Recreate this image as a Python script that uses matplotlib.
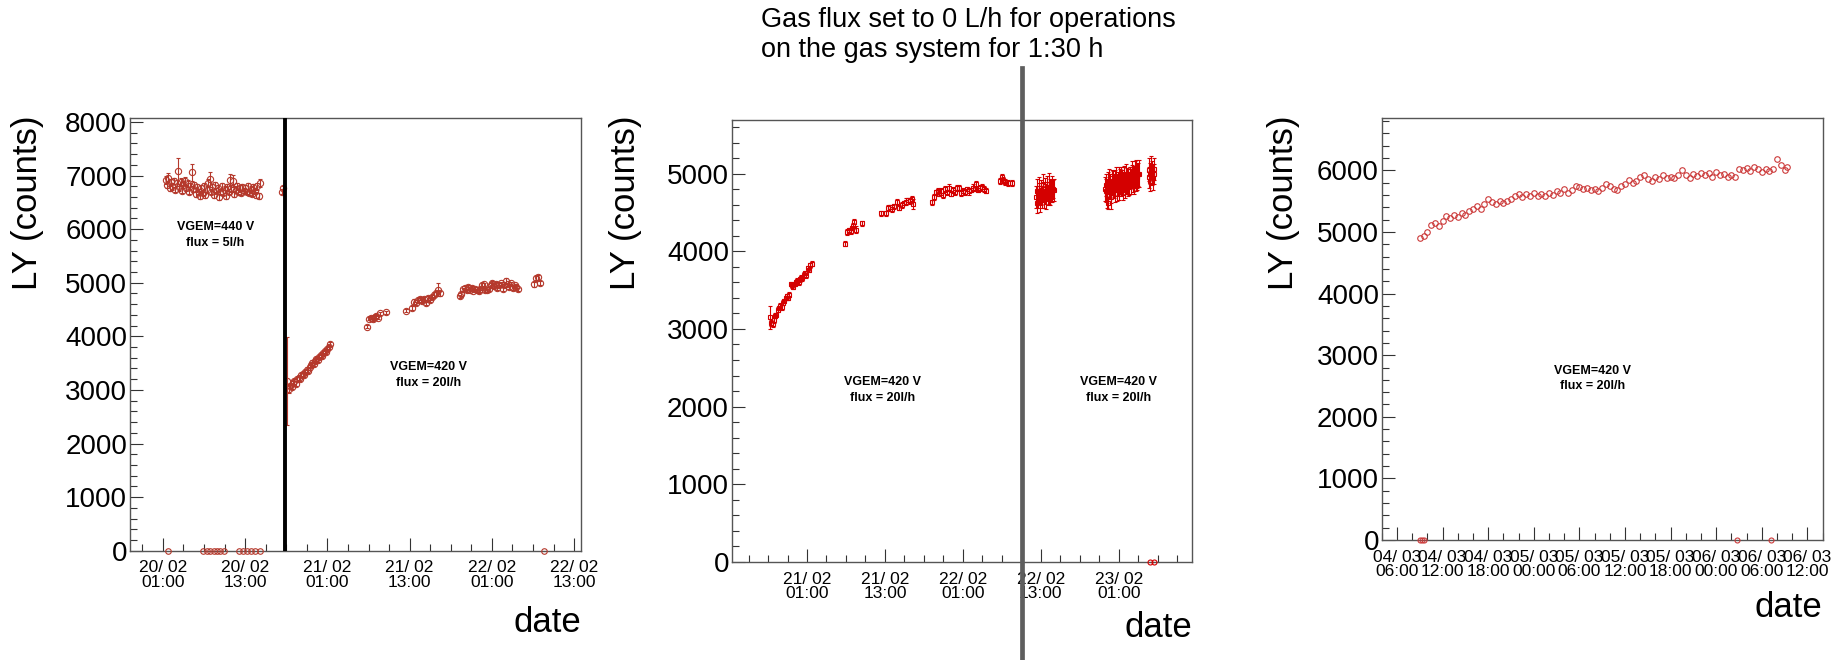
import numpy as np
import matplotlib
matplotlib.use("Agg")
import matplotlib.pyplot as plt
from matplotlib.ticker import MultipleLocator
from matplotlib.lines import Line2D
from matplotlib.transforms import blended_transform_factory

plt.rcParams['font.family'] = ['Liberation Sans', 'DejaVu Sans']

# ---------------- Panel 1 (hours since 20/02 01:00) ----------------
p1_tA = [0.4, 0.6, 0.8, 1.0, 1.2, 1.4, 1.6, 1.8, 2.0, 2.2,
         2.4, 2.6, 2.8, 3.0, 3.2, 3.4, 3.6, 3.8, 4.0, 4.2,
         4.4, 4.6, 4.8, 5.0, 5.2, 5.4, 5.6, 5.8, 6.0, 6.2,
         6.4, 6.6, 6.8, 7.0, 7.2, 7.4, 7.6, 7.8, 8.0, 8.2,
         8.4, 8.6, 8.8, 9.0, 9.2, 9.4, 9.6, 9.8, 10.0, 10.2,
         10.4, 10.6, 10.8, 11.0, 11.2, 11.4, 11.6, 11.8, 12.0, 12.2,
         12.4, 12.6, 12.8, 13.0, 13.2, 13.4, 13.6, 13.8, 14.0, 14.2]
p1_vA = [6920, 6830, 6960, 6760, 6880, 6800, 6900, 6740, 6860, 7090,
         6780, 6880, 6720, 6830, 6900, 6760, 6850, 6700, 6800, 7060,
         6750, 6820, 6650, 6780, 6700, 6620, 6760, 6680, 6800, 6640,
         6740, 6870, 6930, 6700, 6780, 6640, 6820, 6720, 6760, 6600,
         6700, 6800, 6680, 6740, 6620, 6780, 6700, 6920, 6760, 6900,
         6650, 6740, 6800, 6700, 6760, 6680, 6780, 6720, 6760, 6700,
         6800, 6680, 6740, 6660, 6780, 6720, 6640, 6800, 6620, 6860]
p1_eA = [70, 60, 80, 50, 60, 70, 60, 50, 60, 240,
         60, 70, 50, 60, 70, 50, 60, 50, 60, 160,
         50, 60, 50, 60, 50, 50, 60, 50, 60, 50,
         60, 70, 140, 50, 60, 50, 60, 50, 60, 50,
         50, 60, 50, 60, 50, 60, 50, 110, 60, 120,
         50, 60, 60, 50, 60, 50, 60, 50, 60, 50,
         60, 50, 60, 50, 60, 50, 50, 60, 50, 80]
p1_tB = [17.4, 17.55]
p1_vB = [6700, 6760]
p1_eB = [50, 50]
p1_tC = [18.15, 18.4, 18.6, 18.8, 19.0, 19.2, 19.4, 19.6, 19.8, 20.0,
         20.2, 20.4, 20.6, 20.8, 21.0, 21.2, 21.4, 21.6, 21.8, 22.0,
         22.2, 22.4, 22.6, 22.8, 23.0, 23.2, 23.4, 23.6, 23.8, 24.0,
         24.2, 24.4]
p1_vC = [3170, 3020, 3080, 3060, 3130, 3160, 3120, 3200, 3230, 3210,
         3280, 3300, 3280, 3340, 3380, 3360, 3420, 3460, 3510, 3490,
         3540, 3580, 3560, 3620, 3650, 3640, 3690, 3720, 3710, 3760,
         3800, 3860]
p1_eC = [820, 80, 40, 40, 40, 40, 40, 40, 40, 40,
         40, 40, 40, 40, 40, 40, 40, 40, 40, 40,
         40, 40, 40, 40, 40, 40, 40, 40, 40, 40,
         40, 40]
p1_tD = [29.8, 30.1, 30.4, 30.6, 30.9, 31.1, 31.4, 31.7, 32.5]
p1_vD = [4180, 4330, 4350, 4320, 4360, 4380, 4350, 4430, 4450]
p1_eD = [30, 30, 30, 30, 30, 30, 30, 30, 30]
p1_tE = [35.5, 36.3, 36.6, 36.9, 37.2, 37.5, 37.8, 38.1, 38.4, 38.7,
         39.0, 39.3, 39.6, 39.9, 40.1, 40.4]
p1_vE = [4480, 4530, 4650, 4620, 4680, 4700, 4660, 4700, 4620, 4720,
         4680, 4740, 4780, 4800, 4870, 4800]
p1_eE = [30, 30, 40, 30, 40, 30, 30, 40, 30, 40,
         30, 40, 40, 40, 120, 40]
p1_tF = [43.3, 43.55, 43.8, 44.05, 44.3, 44.55, 44.8, 45.05, 45.3, 45.55,
         45.8, 46.05, 46.3, 46.55, 46.8, 47.05, 47.3, 47.55, 47.8, 48.05,
         48.3, 48.55, 48.8, 49.05, 49.3, 49.55, 49.8, 50.05, 50.3, 50.55,
         50.8, 51.05, 51.3, 51.55, 51.8]
p1_vF = [4750, 4790, 4880, 4900, 4860, 4920, 4870, 4900, 4850, 4880,
         4860, 4840, 4890, 4950, 4970, 4870, 4860, 4890, 4960, 4990,
         4940, 4980, 4900, 4960, 4990, 4880, 4950, 5040, 4970, 4930,
         4990, 4900, 4950, 4920, 4880]
p1_eF = [30, 40, 30, 40, 30, 40, 30, 40, 30, 40,
         30, 40, 30, 40, 30, 40, 30, 40, 30, 40,
         30, 40, 30, 40, 30, 40, 30, 50, 30, 40,
         30, 40, 30, 40, 30]
p1_tG = [54.1, 54.4, 54.7, 55.0]
p1_vG = [4970, 5090, 5100, 5000]
p1_eG = [40, 40, 50, 40]
p1_zero_t = [0.7, 5.9, 6.4, 6.9, 7.4, 7.9, 8.4, 8.9, 11.1, 11.7, 12.3, 12.9, 13.5, 14.1, 55.6]
p1_zero_v = [0, 0, 0, 0, 0, 0, 0, 0, 0, 0, 0, 0, 0, 0, 0]
p1_change_t = 17.83
p1_xticks = [0, 12, 24, 36, 48, 60]
p1_xlabels = ['20/ 02\n01:00', '20/ 02\n13:00', '21/ 02\n01:00',
              '21/ 02\n13:00', '22/ 02\n01:00', '22/ 02\n13:00']

# ---------------- Panel 2 (hours since 21/02 01:00) ----------------
p2_tA = [-5.7, -5.5, -5.3, -5.1, -4.9, -4.7, -4.5, -4.3, -4.1, -3.9,
         -3.7, -3.5, -3.3, -3.1, -2.9, -2.7, -2.5, -2.3, -2.1, -1.9,
         -1.7, -1.5, -1.3, -1.1, -0.9, -0.7, -0.5, -0.3, -0.1, 0.1,
         0.3, 0.5, 0.7]
p2_vA = [3150, 3080, 3060, 3110, 3170, 3180, 3250, 3270, 3300, 3280,
         3340, 3360, 3400, 3420, 3400, 3440, 3580, 3560, 3540, 3580,
         3600, 3620, 3600, 3640, 3660, 3650, 3700, 3720, 3690, 3780,
         3760, 3820, 3840]
p2_eA = [150, 40, 30, 30, 30, 30, 30, 30, 30, 30,
         30, 30, 30, 30, 30, 30, 30, 30, 30, 30,
         30, 30, 30, 30, 30, 30, 30, 30, 30, 30,
         30, 30, 30]
p2_tB = [5.8, 6.1, 6.4, 6.7, 6.9, 7.1, 7.3, 7.5, 8.4]
p2_vB = [4100, 4250, 4270, 4260, 4300, 4330, 4380, 4280, 4360]
p2_eB = [30, 40, 30, 40, 30, 40, 30, 40, 30]
p2_tC = [11.4, 12.2, 12.5, 12.8, 13.1, 13.4, 13.8, 14.1, 14.6, 14.9,
         15.2, 15.5, 15.8, 16.1, 16.4]
p2_vC = [4490, 4490, 4560, 4570, 4550, 4580, 4630, 4560, 4600, 4620,
         4640, 4660, 4650, 4670, 4610]
p2_eC = [30, 30, 40, 30, 40, 30, 40, 30, 40, 30,
         40, 30, 40, 40, 60]
p2_tD = [19.2, 19.5, 19.8, 20.1, 20.4, 20.7, 21.0, 21.3, 21.6, 21.9,
         22.2, 22.5, 22.8, 23.1, 23.4, 23.7, 24.0, 24.3, 24.6, 24.9,
         25.2, 25.5, 25.8, 26.1, 26.4, 26.7, 27.0, 27.3, 27.6]
p2_vD = [4630, 4700, 4760, 4780, 4740, 4770, 4720, 4800, 4760, 4820,
         4740, 4790, 4760, 4810, 4820, 4750, 4780, 4760, 4800, 4770,
         4790, 4820, 4800, 4860, 4790, 4810, 4830, 4800, 4780]
p2_eD = [30, 40, 30, 40, 30, 40, 30, 40, 30, 40,
         30, 40, 30, 40, 30, 40, 30, 40, 30, 40,
         30, 40, 30, 40, 30, 40, 30, 40, 30]
p2_tE = [29.8, 30.0, 30.2, 30.5, 31.0, 31.6]
p2_vE = [4900, 4950, 4920, 4890, 4880, 4880]
p2_eE = [40, 40, 40, 40, 40, 40]
p2_tF = [35.3, 35.4, 35.5, 35.6, 35.7, 35.8, 35.9, 36.0, 36.1, 36.2,
         36.3, 36.4, 36.5, 36.6, 36.7, 36.8, 36.9, 37.0, 37.1, 37.2,
         37.3, 37.4, 37.5, 37.6, 37.7, 37.8, 37.9, 38.0]
p2_vF = [4700, 4620, 4780, 4680, 4750, 4820, 4650, 4720, 4790, 4700,
         4850, 4760, 4680, 4800, 4740, 4690, 4830, 4770, 4720, 4860,
         4750, 4800, 4710, 4780, 4820, 4760, 4800, 4790]
p2_eF = [140, 130, 150, 120, 130, 140, 150, 120, 130, 140,
         150, 130, 120, 140, 130, 150, 140, 120, 130, 150,
         140, 130, 120, 140, 150, 130, 120, 140]
p2_tG = [45.9, 46.1, 46.3, 46.5, 46.7, 46.9, 47.1, 47.3, 47.5, 47.7,
         47.9, 48.1, 48.3, 48.5, 48.7, 48.9, 49.1, 49.3, 49.5, 49.7,
         49.9, 50.1, 50.3, 50.5, 50.7, 50.9, 51.1]
p2_vG = [4800, 4850, 4620, 4900, 4820, 4760, 4880, 4840, 4900, 4800,
         4870, 4920, 4850, 4890, 4820, 4950, 4880, 4910, 4860, 4940,
         4900, 4960, 4880, 4990, 4930, 4970, 5000]
p2_eG = [150, 140, 80, 160, 150, 140, 150, 160, 140, 150,
         150, 160, 140, 150, 160, 150, 140, 160, 150, 140,
         160, 150, 140, 170, 150, 160, 170]
p2_tH = [46.0, 46.2, 46.4, 46.6, 46.8, 47.0, 47.2, 47.4, 47.6, 47.8,
         48.0, 48.2, 48.4, 48.6, 48.8, 49.0, 49.2, 49.4, 49.6, 49.8,
         50.0, 50.2, 50.4, 50.6, 50.8, 51.0]
p2_vH = [4780, 4720, 4880, 4850, 4700, 4900, 4860, 4790, 4930, 4850,
         4810, 4900, 4950, 4870, 4920, 4840, 4980, 4900, 4870, 4950,
         5010, 4920, 4960, 5020, 4950, 4990]
p2_eH = [150, 160, 140, 150, 160, 150, 140, 160, 150, 140,
         150, 160, 140, 150, 160, 150, 140, 160, 150, 140,
         150, 160, 140, 150, 160, 150]
p2_tI = [52.6, 52.7, 52.8, 52.9, 53.0, 53.1, 53.2, 53.3, 53.4, 53.5]
p2_vI = [4950, 5050, 4900, 5000, 5080, 4980, 5020, 4940, 5060, 5000]
p2_eI = [140, 150, 130, 140, 150, 130, 140, 150, 140, 130]
p2_zero_t = [52.9, 53.4]
p2_zero_v = [0, 0]
p2_gas_stop_t = 33.1
p2_xticks = [0, 12, 24, 36, 48]
p2_xlabels = ['21/ 02\n01:00', '21/ 02\n13:00', '22/ 02\n01:00',
              '22/ 02\n13:00', '23/ 02\n01:00']

# ---------------- Panel 3 (hours since 04/03 06:00) ----------------
p3_t = [3.0, 3.5, 4.0, 4.5, 5.0, 5.5, 6.0, 6.5, 7.0, 7.5,
        8.0, 8.5, 9.0, 9.5, 10.0, 10.5, 11.0, 11.5, 12.0, 12.5,
        13.0, 13.5, 14.0, 14.5, 15.0, 15.5, 16.0, 16.5, 17.0, 17.5,
        18.0, 18.5, 19.0, 19.5, 20.0, 20.5, 21.0, 21.5, 22.0, 22.5,
        23.0, 23.5, 24.0, 24.5, 25.0, 25.5, 26.0, 26.5, 27.0, 27.5,
        28.0, 28.5, 29.0, 29.5, 30.0, 30.5, 31.0, 31.5, 32.0, 32.5,
        33.0, 33.5, 34.0, 34.5, 35.0, 35.5, 36.0, 36.5, 37.0, 37.5,
        38.0, 38.5, 39.0, 39.5, 40.0, 40.5, 41.0, 41.5, 42.0, 42.5,
        43.0, 43.5, 44.0, 44.5, 45.0, 45.5, 46.0, 46.5, 47.0, 47.5,
        48.0, 48.5, 49.0, 49.5, 50.0, 50.5, 51.0, 51.3]
p3_v = [4900, 4930, 5000, 5120, 5150, 5100, 5180, 5260, 5230, 5270,
        5250, 5300, 5270, 5340, 5380, 5420, 5370, 5450, 5530, 5480,
        5450, 5500, 5470, 5510, 5530, 5580, 5610, 5560, 5620, 5580,
        5640, 5590, 5620, 5580, 5640, 5600, 5660, 5630, 5700, 5640,
        5680, 5750, 5730, 5700, 5720, 5680, 5700, 5660, 5720, 5780,
        5750, 5700, 5680, 5740, 5780, 5840, 5800, 5830, 5900, 5920,
        5860, 5830, 5900, 5860, 5920, 5880, 5900, 5880, 5930, 6000,
        5930, 5880, 5940, 5910, 5950, 5930, 5960, 5900, 5980, 5920,
        5940, 5890, 5930, 5890, 6020, 6000, 6040, 5990, 6050, 6020,
        5980, 6030, 5990, 6020, 6180, 6080, 6000, 6050]
p3_zero_t = [3.0, 3.3, 3.6, 44.7, 49.2]
p3_zero_v = [0, 0, 0, 0, 0]
p3_xticks = [0, 6, 12, 18, 24, 30, 36, 42, 48, 54]
p3_xlabels = ['04/ 03\n06:00', '04/ 03\n12:00', '04/ 03\n18:00', '05/ 03\n00:00',
              '05/ 03\n06:00', '05/ 03\n12:00', '05/ 03\n18:00', '06/ 03\n00:00',
              '06/ 03\n06:00', '06/ 03\n12:00']

# ---------------- figure ----------------
W, H = 1835, 660
fig = plt.figure(figsize=(W / 100, H / 100), dpi=100)
fig.patch.set_facecolor('white')


def px_axes(left, top, right, bottom):
    return fig.add_axes([left / W, 1 - bottom / H, (right - left) / W, (bottom - top) / H])


ax1 = px_axes(130, 117.7, 581, 550.7)
ax2 = px_axes(731.7, 120, 1192, 562)
ax3 = px_axes(1381.7, 118, 1822.7, 540)


def style(ax, xlim, ylim, xticks, xlabels, xminor):
    ax.set_xlim(*xlim)
    ax.set_ylim(*ylim)
    ax.set_xticks(xticks)
    ax.set_xticklabels(xlabels, fontsize=12.5, linespacing=0.95)
    ax.xaxis.set_minor_locator(MultipleLocator(xminor))
    ax.yaxis.set_major_locator(MultipleLocator(1000))
    ax.yaxis.set_minor_locator(MultipleLocator(200))
    ax.tick_params(which='both', direction='in', top=False, right=False,
                   color='#333333', width=0.8, labelcolor='black')
    ax.tick_params(which='major', length=9.5)
    ax.tick_params(which='minor', length=5)
    ax.tick_params(axis='y', labelsize=20, pad=2)
    ax.tick_params(axis='x', pad=7)
    for s in ax.spines.values():
        s.set_color('#555555')
        s.set_linewidth(1.0)


def draw(ax, t, v, e, color, marker, ms):
    ax.errorbar(t, v, yerr=e, fmt=marker, mfc='none', mec=color, ecolor=color,
                ms=ms, mew=0.8, elinewidth=0.8, capsize=1.5, capthick=0.8, zorder=3)


c1 = '#b5392c'
c2 = '#d40000'
c3 = '#cc3a3a'

style(ax1, (-4.8, 61.0), (0, 8080), p1_xticks, p1_xlabels, 3)
for t, v, e in [(p1_tA, p1_vA, p1_eA), (p1_tB, p1_vB, p1_eB), (p1_tC, p1_vC, p1_eC),
                (p1_tD, p1_vD, p1_eD), (p1_tE, p1_vE, p1_eE), (p1_tF, p1_vF, p1_eF),
                (p1_tG, p1_vG, p1_eG)]:
    draw(ax1, t, v, e, c1, 'o', 4.5)
ax1.plot(p1_zero_t, p1_zero_v, 'o', mfc='none', mec=c1, ms=4.0, mew=0.8, clip_on=False, zorder=3)
ax1.axvline(p1_change_t, color='black', lw=2.8, zorder=4)
ax1.text(7.66, 6040, 'VGEM=440 V', ha='center', va='center', fontsize=9, fontweight='bold')
ax1.text(7.66, 5745, 'flux = 5l/h', ha='center', va='center', fontsize=9, fontweight='bold')
ax1.text(38.7, 3431, 'VGEM=420 V', ha='center', va='center', fontsize=9, fontweight='bold')
ax1.text(38.7, 3133, 'flux = 20l/h', ha='center', va='center', fontsize=9, fontweight='bold')

style(ax2, (-11.6, 59.3), (0, 5690), p2_xticks, p2_xlabels, 3)
for t, v, e in [(p2_tA, p2_vA, p2_eA), (p2_tB, p2_vB, p2_eB), (p2_tC, p2_vC, p2_eC),
                (p2_tD, p2_vD, p2_eD), (p2_tE, p2_vE, p2_eE), (p2_tF, p2_vF, p2_eF),
                (p2_tG, p2_vG, p2_eG), (p2_tH, p2_vH, p2_eH), (p2_tI, p2_vI, p2_eI)]:
    draw(ax2, t, v, e, c2, 's', 3.4)
ax2.plot(p2_zero_t, p2_zero_v, 'o', mfc='none', mec=c2, ms=3.6, mew=0.8, clip_on=False, zorder=3)
ax2.text(11.65, 2316, 'VGEM=420 V', ha='center', va='center', fontsize=9, fontweight='bold')
ax2.text(11.65, 2115, 'flux = 20l/h', ha='center', va='center', fontsize=9, fontweight='bold')
ax2.text(48.0, 2316, 'VGEM=420 V', ha='center', va='center', fontsize=9, fontweight='bold')
ax2.text(48.0, 2115, 'flux = 20l/h', ha='center', va='center', fontsize=9, fontweight='bold')

style(ax3, (-2.0, 56.0), (0, 6850), p3_xticks, p3_xlabels, 2)
ax3.plot(p3_t, p3_v, 'o', mfc='none', mec=c3, ms=4.0, mew=0.8, zorder=3)
ax3.plot(p3_zero_t, p3_zero_v, 'o', mfc='none', mec=c3, ms=3.6, mew=0.8, clip_on=False, zorder=3)
ax3.text(25.7, 2751, 'VGEM=420 V', ha='center', va='center', fontsize=9, fontweight='bold')
ax3.text(25.7, 2502, 'flux = 20l/h', ha='center', va='center', fontsize=9, fontweight='bold')

# axis titles
for xc in (27.8, 626.0, 1283.0):
    fig.text(xc / W, 1 - 116 / H, 'LY (counts)', rotation=90, ha='center', va='top', fontsize=25)
for xr, yb in ((581, 632), (1192, 637), (1822.7, 617)):
    fig.text(xr / W, 1 - yb / H, 'date', ha='right', va='baseline', fontsize=25)

# gas-flux annotation and marker line spanning the figure
fig.text(761 / W, 1 - 27 / H, 'Gas flux set to 0 L/h for operations', fontsize=19.5, va='baseline')
fig.text(761 / W, 1 - 57 / H, 'on the gas system for 1:30 h', fontsize=19.5, va='baseline')
tr = blended_transform_factory(ax2.transData, fig.transFigure)
fig.add_artist(Line2D([p2_gas_stop_t, p2_gas_stop_t], [0, 1 - 68 / H], transform=tr,
                      color='#5e5e5e', lw=3.4, zorder=10, clip_on=False))

fig.savefig('out.png', dpi=100, facecolor='white')
